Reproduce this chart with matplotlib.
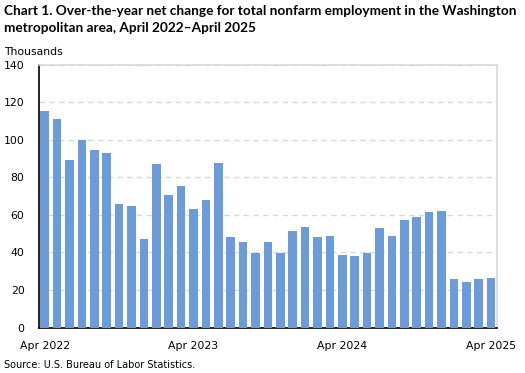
import matplotlib.pyplot as plt
import numpy as np

months = ["Apr 2022", "May 2022", "Jun 2022", "Jul 2022", "Aug 2022", "Sep 2022",
          "Oct 2022", "Nov 2022", "Dec 2022", "Jan 2023", "Feb 2023", "Mar 2023",
          "Apr 2023", "May 2023", "Jun 2023", "Jul 2023", "Aug 2023", "Sep 2023",
          "Oct 2023", "Nov 2023", "Dec 2023", "Jan 2024", "Feb 2024", "Mar 2024",
          "Apr 2024", "May 2024", "Jun 2024", "Jul 2024", "Aug 2024", "Sep 2024",
          "Oct 2024", "Nov 2024", "Dec 2024", "Jan 2025", "Feb 2025", "Mar 2025",
          "Apr 2025"]
change = [115.3, 111.1, 89.4, 99.9, 94.7, 93.0, 65.8, 64.9, 47.4, 87.1, 70.8, 75.6,
          63.3, 68.1, 87.7, 48.4, 45.8, 39.9, 45.7, 39.9, 51.5, 53.6, 48.3, 48.8,
          38.7, 38.1, 39.7, 53.1, 48.8, 57.3, 58.9, 61.6, 62.1, 25.9, 24.3, 25.9,
          26.4]
tick_labels = ["Apr 2022", "Apr 2023", "Apr 2024", "Apr 2025"]

fig = plt.figure(figsize=(5.25, 3.73), dpi=100)
ax = fig.add_axes([38.5 / 525, 1 - 327.5 / 373, (497.3 - 38.5) / 525, (327.5 - 64.7) / 373])

x = np.arange(len(change))
ax.bar(x, change, width=0.7, color="#6B9BD8", zorder=3)

ax.set_xlim(-0.5, len(change) - 0.5)
ax.set_ylim(0, 140)
ax.set_yticks(range(0, 141, 20))
ax.yaxis.grid(True, linestyle=(0, (4, 3)), color="#d9d9d9", linewidth=1)
ax.set_axisbelow(True)

ticks = [months.index(t) for t in tick_labels]
ax.set_xticks(ticks)
ax.set_xticklabels(tick_labels)
ax.tick_params(axis="x", length=0, pad=10, labelsize=7.8)
ax.tick_params(axis="y", length=0, pad=10, labelsize=7.8)

for s in ["top", "right"]:
    ax.spines[s].set_color("#d9d9d9")
    ax.spines[s].set_linewidth(1.2)
for s in ["left", "bottom"]:
    ax.spines[s].set_color("black")
    ax.spines[s].set_linewidth(1.2)

fig.text(4 / 525, 1 - 5 / 373,
         "Chart 1. Over-the-year net change for total nonfarm employment in the Washington\n"
         "metropolitan area, April 2022\u2013April 2025",
         ha="left", va="top", fontsize=9.85, fontweight="bold", family="Lato",
         linespacing=1.5)
fig.text(4 / 525, 1 - 52 / 373, "Thousands", ha="left", va="center", fontsize=7.8)
fig.text(4 / 525, 1 - 365 / 373, "Source: U.S. Bureau of Labor Statistics.",
         ha="left", va="center", fontsize=7)

fig.savefig("out.png", dpi=100)
